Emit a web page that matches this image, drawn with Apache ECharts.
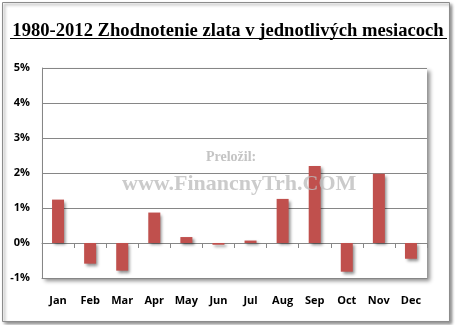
<!DOCTYPE html>
<html><head><meta charset="utf-8">
<script src="https://cdn.jsdelivr.net/npm/echarts@6/dist/echarts.min.js"></script>
<style>html,body{margin:0;padding:0;background:#fff}#c{width:456px;height:325px}</style>
</head><body><div id="c"></div>
<script>
const categories = ['Jan','Feb','Mar','Apr','May','Jun','Jul','Aug','Sep','Oct','Nov','Dec'];
const values = [1.24, -0.59, -0.79, 0.87, 0.17, -0.05, 0.07, 1.26, 2.2, -0.82, 1.98, -0.45];
const yTicks = [-1, 0, 1, 2, 3, 4, 5];
const titleText = '1980-2012 Zhodnotenie zlata v jednotlivých mesiacoch';
const wm1 = 'Preložil:';
const wm2 = 'www.FinancnyTrh.COM';

const chart = echarts.init(document.getElementById('c'), null, {renderer:'canvas'});
const labelFont = {fontFamily:'Open Sans', fontWeight:'bold', fontSize:11, color:'#000'};
chart.setOption({
  animation:false,
  backgroundColor:'#fff',
  title:{text:titleText, left:'center', top:17,
    textStyle:{fontFamily:'Liberation Serif', fontWeight:'bold', fontSize:18.6, color:'#000'}},
  grid:{left:42, right:29, top:68, bottom:47, show:true, backgroundColor:'#fff', borderWidth:0,
    shadowColor:'rgba(0,0,0,0.45)', shadowBlur:4, shadowOffsetX:3, shadowOffsetY:3},
  xAxis:[
    {type:'category', data:categories, position:'bottom',
      axisLine:{onZero:false, lineStyle:{color:'#868686', width:1}},
      axisTick:{show:false}, axisLabel:Object.assign({margin:17}, labelFont)},
    {type:'category', data:categories, position:'bottom',
      axisLine:{onZero:true, lineStyle:{color:'#868686'}},
      axisTick:{show:true, length:5, lineStyle:{color:'#868686'}}, axisLabel:{show:false}}
  ],
  yAxis:{type:'value', min:yTicks[0], max:yTicks[yTicks.length-1], interval:1,
    axisLine:{show:true, lineStyle:{color:'#868686'}}, axisTick:{show:false},
    splitLine:{lineStyle:{color:'#868686', width:1}},
    axisLabel:Object.assign({margin:12, formatter:v=>v+'%'}, labelFont)},
  series:[{type:'bar', data:values, xAxisIndex:0, barWidth:12,
    itemStyle:{color:'#c0504d', shadowColor:'rgba(0,0,0,0.45)', shadowBlur:3, shadowOffsetX:2, shadowOffsetY:2}}],
  graphic:[
    {type:'rect', shape:{x:2.5, y:2.5, width:447, height:319}, z:-10,
      style:{fill:'#fff', stroke:'#8c8c8c', lineWidth:1, shadowColor:'rgba(0,0,0,0.45)', shadowBlur:3, shadowOffsetX:2, shadowOffsetY:2}},
    {type:'line', shape:{x1:10, y1:38.5, x2:447, y2:38.5}, style:{stroke:'#000', lineWidth:1.2}},
    {type:'text', x:206, y:150, z:100, style:{text:wm1, font:'bold 14px "Liberation Serif"', fill:'#c4c4c4'}},
    {type:'text', x:122, y:173, z:100, style:{text:wm2, font:'bold 22px "Liberation Serif"', fill:'rgba(190,190,190,0.8)'}}
  ]
});
</script></body></html>
